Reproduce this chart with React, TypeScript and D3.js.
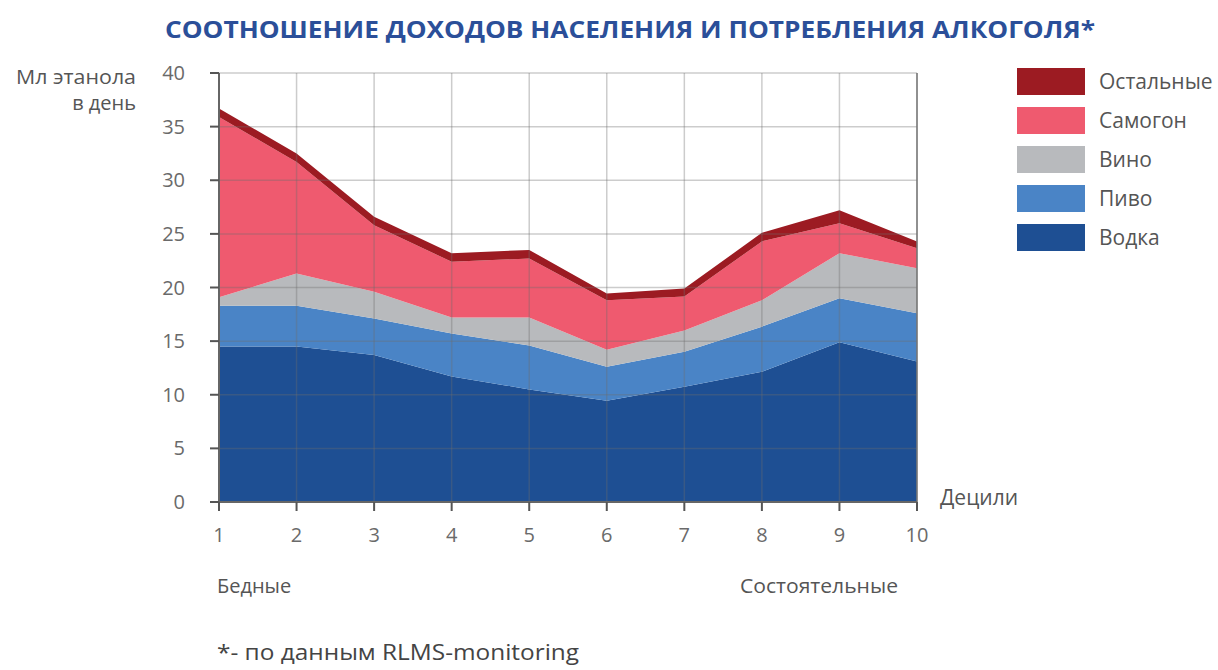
import React from "react";
import * as d3 from "d3";

const deciles = [1, 2, 3, 4, 5, 6, 7, 8, 9, 10];
const vodka = [14.5, 14.5, 13.7, 11.7, 10.5, 9.45, 10.75, 12.15, 14.9, 13.1];
const pivo = [3.8, 3.8, 3.4, 4.0, 4.1, 3.15, 3.25, 4.2, 4.1, 4.5];
const vino = [0.8, 3.0, 2.5, 1.5, 2.6, 1.6, 2.0, 2.45, 4.2, 4.2];
const samogon = [16.8, 10.4, 6.2, 5.2, 5.5, 4.6, 3.15, 5.5, 2.8, 1.85];
const ostalnye = [0.8, 0.8, 0.8, 0.8, 0.8, 0.65, 0.75, 0.8, 1.2, 0.65];

const seriesNames = ["Водка", "Пиво", "Вино", "Самогон", "Остальные"];
const seriesColors = ["#1e4f93", "#4a84c6", "#b8babd", "#ef5a6f", "#9c1b22"];
const yTicks = [0, 5, 10, 15, 20, 25, 30, 35, 40];

export default function App() {
  const W = 1218, H = 670;
  const left = 219, right = 917, top = 73, bottom = 502;
  const x = d3.scaleLinear().domain([1, 10]).range([left, right]);
  const y = d3.scaleLinear().domain([0, 40]).range([bottom, top]);

  const rows = deciles.map((d, i) => ({
    d,
    "Водка": vodka[i],
    "Пиво": pivo[i],
    "Вино": vino[i],
    "Самогон": samogon[i],
    "Остальные": ostalnye[i],
  }));
  const stacked = d3.stack<any>().keys(seriesNames)(rows);
  const area = d3
    .area<any>()
    .x((p) => x(p.data.d))
    .y0((p) => y(p[0]))
    .y1((p) => y(p[1]));

  const font = "'Open Sans', 'Noto Sans', sans-serif";
  const legendOrder = [...seriesNames].reverse();

  return (
    <svg width={W} height={H} style={{ position: "absolute", left: 0, top: 0 }} fontFamily={font}>
      <rect width={W} height={H} fill="#fff" />
      <text x={630} y={38} textAnchor="middle" fontSize={23} fontWeight={700} fill="#2b4f99"
        textLength={930} lengthAdjust="spacingAndGlyphs">
        СООТНОШЕНИЕ ДОХОДОВ НАСЕЛЕНИЯ И ПОТРЕБЛЕНИЯ АЛКОГОЛЯ*
      </text>

      {stacked.map((s, i) => (
        <path key={s.key} d={area(s as any) || ""} fill={seriesColors[i]} />
      ))}

      {/* grid */}
      {yTicks.map((t) => (
        <line key={"h" + t} x1={left} x2={right} y1={y(t)} y2={y(t)} stroke="#6e6e6e" strokeOpacity={0.35} strokeWidth={1.5} />
      ))}
      {deciles.map((d) => (
        <line key={"v" + d} x1={x(d)} x2={x(d)} y1={top} y2={bottom} stroke="#6e6e6e" strokeOpacity={0.35} strokeWidth={1.5} />
      ))}
      <line x1={right} x2={right} y1={top} y2={bottom} stroke="#777" strokeWidth={1.5} />
      <line x1={left} x2={left} y1={top} y2={bottom + 8} stroke="#666" strokeWidth={2} />
      <line x1={left} x2={right} y1={bottom} y2={bottom} stroke="#666" strokeWidth={2} />
      {yTicks.map((t) => (
        <line key={"yt" + t} x1={left - 9} x2={left} y1={y(t)} y2={y(t)} stroke="#555" strokeWidth={2} />
      ))}
      {deciles.map((d) => (
        <line key={"xt" + d} x1={x(d)} x2={x(d)} y1={bottom} y2={bottom + 9} stroke="#555" strokeWidth={2} />
      ))}

      {yTicks.map((t) => (
        <text key={"yl" + t} x={185} y={y(t) + 7} textAnchor="end" fontSize={20} fill="#6a6a6a">{t}</text>
      ))}
      {deciles.map((d) => (
        <text key={"xl" + d} x={x(d)} y={542} textAnchor="middle" fontSize={20} fill="#6a6a6a">{d}</text>
      ))}

      <text x={136} y={84} textAnchor="end" fontSize={20} fill="#555" textLength={120} lengthAdjust="spacingAndGlyphs">Мл этанола</text>
      <text x={136} y={110} textAnchor="end" fontSize={20} fill="#555">в день</text>
      <text x={940} y={505} fontSize={21} fill="#555">Децили</text>
      <text x={217} y={593} fontSize={20} fill="#555">Бедные</text>
      <text x={740} y={593} fontSize={20} textLength={158} lengthAdjust="spacingAndGlyphs" fill="#555">Состоятельные</text>
      <text x={217} y={660} fontSize={21} fill="#444" textLength={362} lengthAdjust="spacingAndGlyphs">*- по данным RLMS-monitoring</text>

      {legendOrder.map((name, i) => {
        const idx = seriesNames.indexOf(name);
        const yy = 68 + i * 39;
        return (
          <g key={name}>
            <rect x={1017} y={yy} width={68} height={27} fill={seriesColors[idx]} />
            <text x={1099} y={yy + 21} fontSize={21} fill="#555">{name}</text>
          </g>
        );
      })}
    </svg>
  );
}
